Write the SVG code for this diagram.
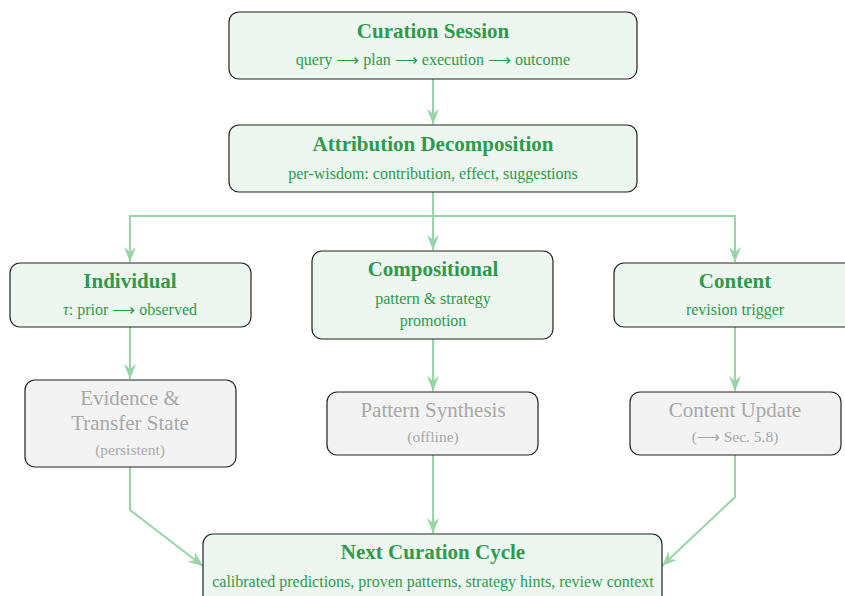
<svg xmlns="http://www.w3.org/2000/svg" width="845" height="596" viewBox="0 0 845 596">
<defs>
<marker id="ah" markerUnits="userSpaceOnUse" markerWidth="16" markerHeight="14" viewBox="0 0 16 14" refX="15" refY="7" orient="auto">
<path d="M0,1 L15,7 L0,13 L5,7 z" fill="#98d4a8"/>
</marker>
<style>
.g rect{fill:#edf7ef;stroke:#222;stroke-width:1.2}
.q rect{fill:#f3f3f3;stroke:#222;stroke-width:1.2}
text{font-family:"Liberation Serif","Times New Roman",serif;text-anchor:middle}
.t{font-size:21px;font-weight:bold;fill:#2e9a4c}
.s{font-size:16px;fill:#2e9a4c}
.qt{font-size:21px;fill:#a8a8a8}
.qs{font-size:15.5px;fill:#a8a8a8}
.c{fill:none;stroke:#98d4a8;stroke-width:2}
</style>
</defs>
<rect width="845" height="596" fill="#fff"/>
<g id="connectors">
<path class="c" d="M433,79 V124" marker-end="url(#ah)"/>
<path class="c" d="M433,192 V250" marker-end="url(#ah)"/>
<path class="c" d="M130,262 V216 H735 V262" />
<path class="c" d="M130,216 V262" marker-end="url(#ah)"/>
<path class="c" d="M735,216 V262" marker-end="url(#ah)"/>
<path class="c" d="M130,327 V379" marker-end="url(#ah)"/>
<path class="c" d="M433,339 V391" marker-end="url(#ah)"/>
<path class="c" d="M735,327 V391" marker-end="url(#ah)"/>
<path class="c" d="M130,467 V510 L203,566" marker-end="url(#ah)"/>
<path class="c" d="M433,455 V533" marker-end="url(#ah)"/>
<path class="c" d="M735,455 V497 L662,566" marker-end="url(#ah)"/>
</g>
<g id="curation-session" class="g">
<rect x="229" y="12" width="408" height="67" rx="10"/>
<text class="t" x="433" y="38">Curation Session</text>
<text class="s" x="433" y="65">query ⟶ plan ⟶ execution ⟶ outcome</text>
</g>
<g id="attribution" class="g">
<rect x="229" y="125" width="408" height="67" rx="10"/>
<text class="t" x="433" y="151">Attribution Decomposition</text>
<text class="s" x="433" y="179">per-wisdom: contribution, effect, suggestions</text>
</g>
<g id="individual" class="g">
<rect x="10" y="263" width="241" height="64" rx="10"/>
<text class="t" x="130" y="288">Individual</text>
<text class="s" x="130" y="315"><tspan font-style="italic">τ</tspan>: prior ⟶ observed</text>
</g>
<g id="compositional" class="g">
<rect x="312" y="251" width="241" height="88" rx="10"/>
<text class="t" x="433" y="276">Compositional</text>
<text class="s" x="433" y="304">pattern &amp; strategy</text>
<text class="s" x="433" y="326">promotion</text>
</g>
<g id="content" class="g">
<rect x="614" y="263" width="242" height="64" rx="10"/>
<text class="t" x="735" y="288">Content</text>
<text class="s" x="735" y="315">revision trigger</text>
</g>
<g id="evidence" class="q">
<rect x="25" y="380" width="211" height="87" rx="10"/>
<text class="qt" x="130" y="405">Evidence &amp;</text>
<text class="qt" x="130" y="430">Transfer State</text>
<text class="qs" x="130" y="455">(persistent)</text>
</g>
<g id="pattern-synthesis" class="q">
<rect x="327" y="392" width="211" height="63" rx="10"/>
<text class="qt" x="433" y="417">Pattern Synthesis</text>
<text class="qs" x="433" y="442">(offline)</text>
</g>
<g id="content-update" class="q">
<rect x="630" y="392" width="211" height="63" rx="10"/>
<text class="qt" x="735" y="417">Content Update</text>
<text class="qs" x="735" y="442">(⟶ Sec. 5.8)</text>
</g>
<g id="next-cycle" class="g">
<rect x="203" y="534" width="459" height="72" rx="10"/>
<text class="t" x="433" y="559">Next Curation Cycle</text>
<text class="s" x="433" y="587">calibrated predictions, proven patterns, strategy hints, review context</text>
</g>
</svg>
